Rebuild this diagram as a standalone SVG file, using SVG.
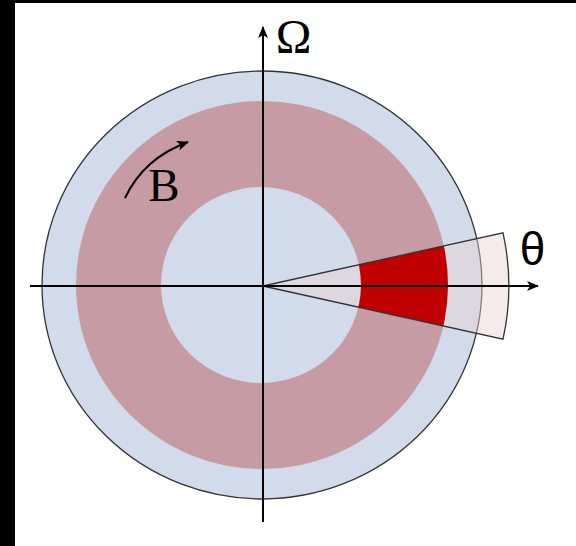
<svg xmlns="http://www.w3.org/2000/svg" width="576" height="546" viewBox="0 0 576 546">
  <style>
    .axis { stroke: #000; stroke-width: 2; fill: none; }
    .edge { stroke: #333; stroke-width: 1.3; }
    .serif { font-family: "Liberation Serif", "DejaVu Serif", serif; fill: #000; }
    .sans { font-family: "Liberation Sans", "DejaVu Sans", sans-serif; fill: #000; }
  </style>
  <defs>
    <marker id="arrow" viewBox="0 0 12 10" refX="11" refY="5" markerWidth="13" markerHeight="10" markerUnits="userSpaceOnUse" orient="auto">
      <path d="M0,0 L12,5 L0,10 L3,5 Z" fill="#000"/>
    </marker>
    <clipPath id="wedgeClip">
      <path d="M263,286 L503,232.8 A246,246 0 0 1 503,339.2 Z"/>
    </clipPath>
  </defs>
  <rect x="0" y="0" width="576" height="546" fill="#fff"/>
  <rect x="0" y="0" width="15" height="546" fill="#000"/>
  <rect x="0" y="0" width="576" height="3" fill="#000"/>

  <g id="disk">
    <ellipse cx="262" cy="285" rx="220" ry="214" fill="#d1dbeb" class="edge"/>
    <ellipse cx="262" cy="285" rx="186" ry="184" fill="#c69ba3"/>
    <ellipse cx="261" cy="285" rx="100" ry="98" fill="#d1dbeb"/>
  </g>

  <g id="wedge">
    <path d="M263,286 L503,232.8 A246,246 0 0 1 503,339.2 Z" fill="#ebd3d1" fill-opacity="0.45"/>
    <path clip-path="url(#wedgeClip)" fill-rule="evenodd" fill="#c00000"
      d="M76,285 A186,184 0 1 0 448,285 A186,184 0 1 0 76,285 Z M161,285 A100,98 0 1 0 361,285 A100,98 0 1 0 161,285 Z"/>
    <path d="M263,286 L503,232.8 A246,246 0 0 1 503,339.2 Z" fill="none" class="edge"/>
  </g>

  <g id="connectors">
    <line class="axis" x1="30" y1="286" x2="538" y2="286" marker-end="url(#arrow)"/>
    <line class="axis" x1="263" y1="522" x2="263" y2="27" marker-end="url(#arrow)"/>
    <path class="axis" d="M125,198 Q144,158 188,142" stroke-width="2" marker-end="url(#arrow)"/>
  </g>

  <g id="label-omega">
    <text class="serif" x="293.5" y="53" font-size="48" text-anchor="middle">Ω</text>
  </g>
  <g id="label-theta">
    <text class="sans" x="532.5" y="265" font-size="46" text-anchor="middle">θ</text>
  </g>
  <g id="label-B">
    <text class="serif" x="164" y="201" font-size="47" text-anchor="middle">B</text>
  </g>
</svg>
